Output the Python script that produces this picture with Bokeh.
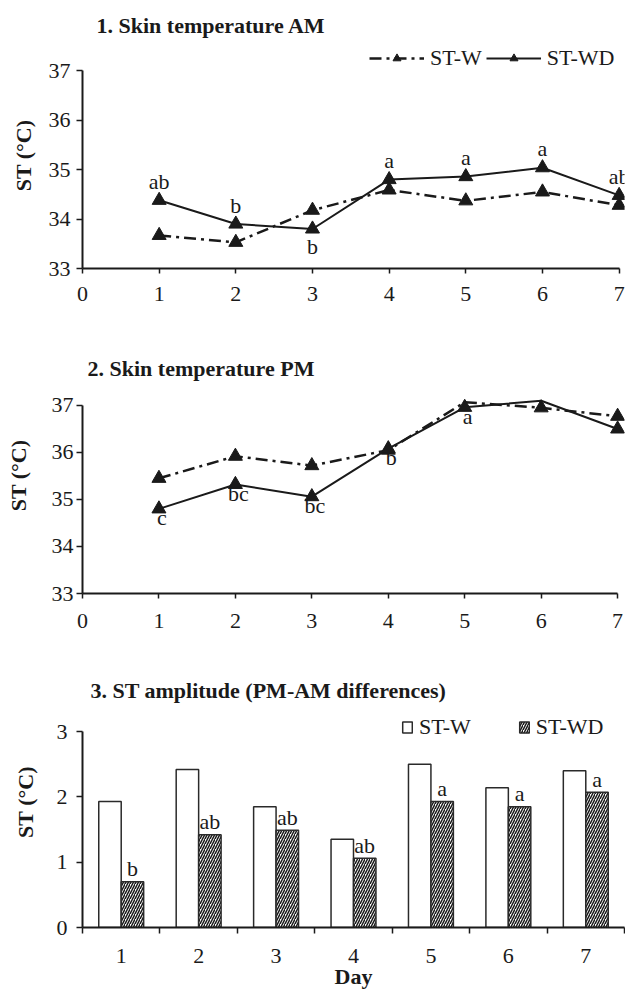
from bokeh.plotting import figure
from bokeh.layouts import column
from bokeh.models import (Label, Legend, LegendItem, FixedTicker, Range1d, ColumnDataSource,
                          CDSView, BooleanFilter)
from bokeh.transform import dodge
from bokeh.core.properties import value
from bokeh.embed import file_html
from bokeh.resources import INLINE

# ---------------- data ----------------
days = [1, 2, 3, 4, 5, 6, 7]
am_w = [33.67, 33.53, 34.18, 34.59, 34.37, 34.55, 34.28]
am_wd = [34.38, 33.90, 33.80, 34.80, 34.86, 35.04, 34.48]
am_letters = ["ab", "b", "b", "a", "a", "a", "ab"]
am_letter_side = ["above", "above", "below", "above", "above", "above", "above"]

pm_w = [35.45, 35.92, 35.72, 36.05, 37.07, 36.95, 36.77]
pm_wd = [34.80, 35.32, 35.06, 36.08, 36.96, 37.10, 36.50]
pm_letters = ["c", "bc", "bc", "b", "a", "", ""]

amp_w = [1.93, 2.42, 1.85, 1.35, 2.50, 2.14, 2.40]
amp_wd = [0.70, 1.42, 1.49, 1.06, 1.93, 1.85, 2.07]
amp_letters = ["b", "ab", "ab", "ab", "a", "a", "a"]

line_ticks = [0, 1, 2, 3, 4, 5, 6, 7]
temp_ticks = [33, 34, 35, 36, 37]
amp_ticks = [0, 1, 2, 3]
bar_edges = [0.5, 1.5, 2.5, 3.5, 4.5, 5.5, 6.5, 7.5]
TEMP_MAX = 37  # axis maximum; markers above it are not drawn (as in the original)

FONT = "Liberation Serif"
INK = "#1a1a1a"
W_DASH = "12 5 3 5"
FS = "22px"


def base_fig(w, h, left, right, top, bottom, xr, yr):
    p = figure(width=w, height=h, output_backend="svg", toolbar_location=None,
               x_range=xr, y_range=yr,
               min_border_left=left, min_border_right=right,
               min_border_top=top, min_border_bottom=bottom)
    p.outline_line_color = None
    p.xgrid.grid_line_color = None
    p.ygrid.grid_line_color = None
    p.background_fill_color = "white"
    p.border_fill_color = "white"
    for ax in (p.xaxis[0], p.yaxis[0]):
        ax.axis_line_color = INK
        ax.axis_line_width = 2
        ax.major_tick_line_color = INK
        ax.major_tick_line_width = 1.5
        ax.major_tick_in = 0
        ax.major_tick_out = 6
        ax.minor_tick_line_color = None
        ax.major_label_text_font = FONT
        ax.major_label_text_font_size = FS
        ax.major_label_text_color = INK
        ax.axis_label_text_font = FONT
        ax.axis_label_text_font_size = FS
        ax.axis_label_text_font_style = "bold"
        ax.axis_label_text_color = INK
    return p


def add_label(p, text, x, y, bold=False):
    p.add_layout(Label(x=x, y=y, x_units="screen", y_units="screen", text=text,
                       text_font=FONT, text_font_size=FS,
                       text_font_style="bold" if bold else "normal",
                       text_color=INK, text_align="left", text_baseline="alphabetic"))


def make_legend(items, loc, spacing, gw, gh):
    return Legend(items=items, orientation="horizontal", location=loc,
                  border_line_color=None, background_fill_alpha=0,
                  padding=0, margin=0, spacing=spacing, label_standoff=6,
                  glyph_width=gw, glyph_height=gh, label_height=20,
                  label_text_font=FONT, label_text_font_size=FS, label_text_color=INK)


# ---------------- panel 1 ----------------
src1 = ColumnDataSource(dict(day=days, w=am_w, wd=am_wd, lab=am_letters))
p1 = base_fig(625, 336, 75, 0, 42, 68, Range1d(0, 7.07), Range1d(33, 37.575))
p1.title.text = "1.  Skin temperature AM"
p1.title.text_font = FONT
p1.title.text_font_size = FS
p1.title.text_font_style = "bold"
p1.title.text_color = INK
p1.title.align = "left"
p1.title.offset = 14
p1.title.standoff = 9
p1.xaxis[0].ticker = FixedTicker(ticks=line_ticks)
p1.xaxis[0].bounds = (0, 7)
p1.xaxis[0].major_tick_out = 5
p1.xaxis[0].major_label_standoff = 13
p1.yaxis[0].ticker = FixedTicker(ticks=temp_ticks)
p1.yaxis[0].bounds = (33, 37)
p1.yaxis[0].major_label_standoff = 6
p1.yaxis[0].axis_label = "ST (\u00b0C)"
p1.yaxis[0].axis_label_standoff = 10

lw1 = p1.line("day", "w", source=src1, line_color=INK, line_width=2.5, line_dash=W_DASH)
sw1 = p1.scatter("day", "w", source=src1, marker="triangle", size=14, fill_color=INK, line_color=INK)
lwd1 = p1.line("day", "wd", source=src1, line_color=INK, line_width=2)
swd1 = p1.scatter("day", "wd", source=src1, marker="triangle", size=14, fill_color=INK, line_color=INK)

above_idx = [i for i, s in enumerate(am_letter_side) if s == "above"]
below_idx = [i for i, s in enumerate(am_letter_side) if s == "below"]
src1a = ColumnDataSource(dict(day=[days[i] for i in above_idx], wd=[am_wd[i] for i in above_idx],
                              lab=[am_letters[i] for i in above_idx]))
src1b = ColumnDataSource(dict(day=[days[i] for i in below_idx], wd=[am_wd[i] for i in below_idx],
                              lab=[am_letters[i] for i in below_idx]))
p1.text("day", "wd", text="lab", source=src1a, y_offset=-19, text_align="center",
        text_baseline="middle", text_font=value(FONT), text_font_size=FS, text_color=INK)
p1.text("day", "wd", text="lab", source=src1b, y_offset=18, text_align="center",
        text_baseline="middle", text_font=value(FONT), text_font_size=FS, text_color=INK)

p1.add_layout(make_legend([LegendItem(label="ST-W", renderers=[lw1, sw1]),
                           LegendItem(label="ST-WD", renderers=[lwd1, swd1])],
                          (287, 197), 4, 55, 20), "center")

# ---------------- panel 2 ----------------
src2 = ColumnDataSource(dict(day=days, w=pm_w, wd=pm_wd, lab=pm_letters))
view_w = CDSView(filter=BooleanFilter([v <= TEMP_MAX for v in pm_w]))
view_wd = CDSView(filter=BooleanFilter([v <= TEMP_MAX for v in pm_wd]))
p2 = base_fig(625, 318, 82, 0, 21, 61, Range1d(0, 7.09), Range1d(33, 38.02))
p2.xaxis[0].ticker = FixedTicker(ticks=line_ticks)
p2.xaxis[0].bounds = (0, 7)
p2.xaxis[0].major_tick_out = 5
p2.xaxis[0].major_label_standoff = 15
p2.yaxis[0].ticker = FixedTicker(ticks=temp_ticks)
p2.yaxis[0].bounds = (33, TEMP_MAX)
p2.yaxis[0].major_label_standoff = 3
p2.yaxis[0].axis_label = "ST (\u00b0C)"
p2.yaxis[0].axis_label_standoff = 18

p2.line("day", "w", source=src2, line_color=INK, line_width=2.5, line_dash=W_DASH)
p2.scatter("day", "w", source=src2, view=view_w, marker="triangle", size=14, fill_color=INK, line_color=INK)
p2.line("day", "wd", source=src2, line_color=INK, line_width=2)
p2.scatter("day", "wd", source=src2, view=view_wd, marker="triangle", size=14, fill_color=INK, line_color=INK)
p2.text("day", "wd", text="lab", source=src2, x_offset=3, y_offset=9, text_align="center",
        text_baseline="middle", text_font=value(FONT), text_font_size=FS, text_color=INK)

add_label(p2, "2.  Skin temperature PM", 5, 225, bold=True)

# ---------------- panel 3 ----------------
src3 = ColumnDataSource(dict(day=days, w=amp_w, wd=amp_wd, lab=amp_letters))
p3 = base_fig(625, 340, 73, 1, 22, 67, Range1d(0.5, 7.5), Range1d(0, 3.842))
p3.xaxis[0].ticker = FixedTicker(ticks=days, minor_ticks=bar_edges)
p3.xaxis[0].major_tick_out = 0
p3.xaxis[0].minor_tick_line_color = INK
p3.xaxis[0].minor_tick_line_width = 1.5
p3.xaxis[0].minor_tick_in = 0
p3.xaxis[0].minor_tick_out = 6
p3.xaxis[0].major_label_standoff = 15
p3.xaxis[0].axis_label = "Day"
p3.xaxis[0].axis_label_standoff = -2
p3.yaxis[0].ticker = FixedTicker(ticks=amp_ticks)
p3.yaxis[0].bounds = (0, 3)
p3.yaxis[0].major_label_standoff = 9
p3.yaxis[0].axis_label = "ST (\u00b0C)"
p3.yaxis[0].axis_label_standoff = 16

bw = p3.vbar(x=dodge("day", -0.145, range=p3.x_range), top="w", width=0.29, source=src3,
             fill_color="white", line_color="#2a2a2a", line_width=1.5)
bwd = p3.vbar(x=dodge("day", 0.145, range=p3.x_range), top="wd", width=0.29, source=src3,
              fill_color="white", line_color="#2a2a2a", line_width=1.5,
              hatch_pattern="right_diagonal_line", hatch_color=INK, hatch_weight=1.5, hatch_scale=5)
p3.text(x=dodge("day", 0.145, range=p3.x_range), y="wd", text="lab", source=src3, y_offset=-13,
        text_align="center", text_baseline="middle", text_font=value(FONT),
        text_font_size=FS, text_color=INK)

p3.add_layout(make_legend([LegendItem(label="ST-W", renderers=[bw]),
                           LegendItem(label="ST-WD", renderers=[bwd])],
                          (319, 187), 47, 12, 14), "center")

add_label(p3, "3.  ST amplitude (PM-AM differences)", 8, 237, bold=True)

layout = column(p1, p2, p3, spacing=0)
open("out.html", "w").write(file_html(layout, INLINE))
